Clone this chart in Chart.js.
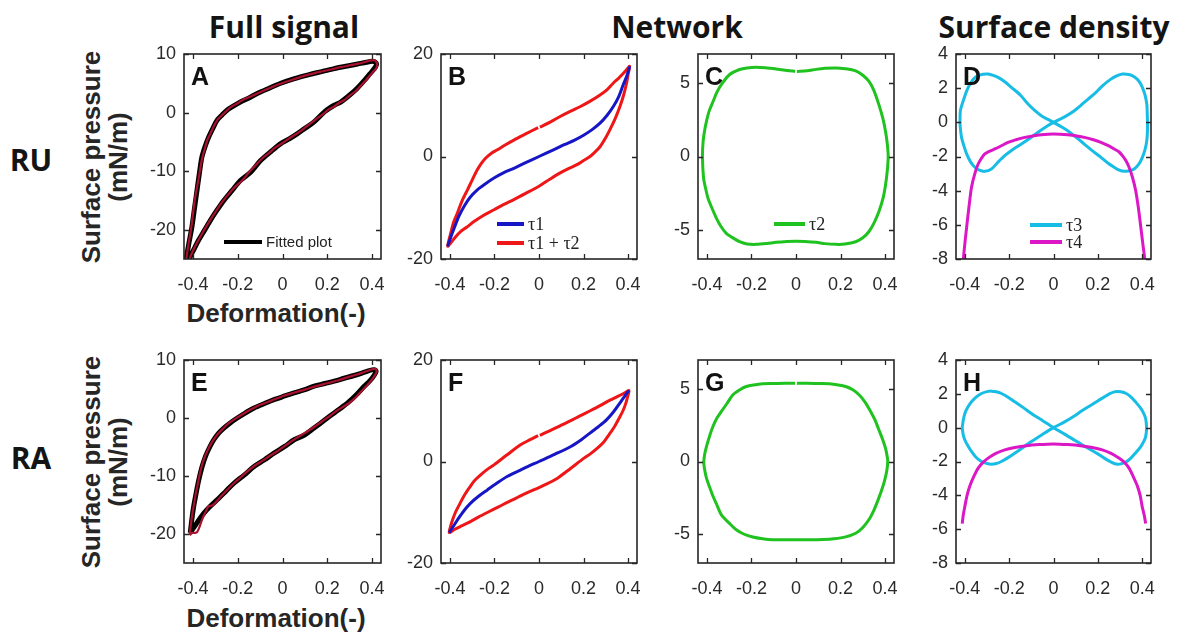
<!DOCTYPE html>
<html>
<head>
<meta charset="utf-8">
<script src="https://cdn.jsdelivr.net/npm/chart.js@4.4.1/dist/chart.umd.min.js"></script>
<style>
  html, body { margin: 0; padding: 0; background: #fff; }
  body { width: 1184px; height: 634px; position: relative; overflow: hidden; }
  .txt { position: absolute; white-space: nowrap; color: #141414; }
  .head { font: 700 30px "Open Sans", "Liberation Sans", sans-serif; line-height: 30px; transform: translateX(-50%); }
  .axis { font: 700 26px "Liberation Sans", Arial, sans-serif; line-height: 26px; color: #262626; }
  .xt { transform: translateX(-50%); }
  .yt { transform: translate(-50%, -50%) rotate(-90deg); }
</style>
</head>
<body>

<div class="txt head" style="left:284px; top:12px;">Full signal</div>
<div class="txt head" style="left:677px; top:12px;">Network</div>
<div class="txt head" style="left:1054px; top:12px;">Surface density</div>
<div class="txt head" style="left:31px; top:145px;">RU</div>
<div class="txt head" style="left:31px; top:443px;">RA</div>

<div class="txt axis yt" style="left:91px; top:157px;">Surface pressure</div>
<div class="txt axis yt" style="left:118px; top:157px;">(mN/m)</div>
<div class="txt axis yt" style="left:91px; top:462px;">Surface pressure</div>
<div class="txt axis yt" style="left:118px; top:462px;">(mN/m)</div>
<div class="txt axis xt" style="left:276px; top:300px;">Deformation(-)</div>
<div class="txt axis xt" style="left:276px; top:605px;">Deformation(-)</div>

<script>
// ---------- tick values ----------
const xTicks = [-0.4, -0.2, 0, 0.2, 0.4];
const yTicksFull = [-20, -10, 0, 10];
const yTicksNet = [-20, 0, 20];
const yTicksTau2 = [-5, 0, 5];
const yTicksDens = [-8, -6, -4, -2, 0, 2, 4];

// ---------- RU: full signal (measured data and fitted curve) ----------
const ruData = [
  [-0.432,-26],[-0.428,-24.6],[-0.42,-22.5],[-0.41,-20.3],[-0.402,-18.0],[-0.396,-16.0],[-0.388,-14.0],
  [-0.38,-12.4],[-0.373,-10.9],[-0.366,-9.2],[-0.357,-7.5],[-0.346,-6.0],[-0.335,-4.6],[-0.322,-3.6],
  [-0.308,-2.4],[-0.29,-1.2],[-0.272,-0.5],[-0.25,0.3],[-0.228,1.0],[-0.2,1.6],[-0.176,2.2],[-0.15,2.6],
  [-0.13,2.95],[-0.11,3.3],[-0.08,3.8],[-0.05,4.3],[-0.02,4.8],[0.02,5.3],[0.06,5.8],[0.1,6.3],[0.14,6.7],
  [0.18,7.05],[0.22,7.4],[0.26,7.75],[0.3,8.05],[0.34,8.35],[0.37,8.65],[0.395,8.9],[0.41,8.95],[0.42,8.6],
  [0.423,8.1],[0.418,7.5],[0.405,7.0],[0.39,6.3],[0.37,5.4],[0.35,4.6],[0.325,3.6],[0.3,2.9],[0.275,2.1],
  [0.25,1.6],[0.23,1.0],[0.205,0.5],[0.18,-0.3],[0.15,-1.1],[0.12,-2.0],[0.09,-2.9],[0.06,-3.7],[0.03,-4.4],
  [0.0,-5.2],[-0.03,-5.9],[-0.06,-6.9],[-0.09,-7.8],[-0.12,-9.0],[-0.15,-10.2],[-0.18,-11.6],[-0.21,-12.6],
  [-0.24,-13.9],[-0.27,-15.3],[-0.3,-17.0],[-0.33,-18.8],[-0.355,-20.4],[-0.38,-22.1],[-0.4,-23.6],
  [-0.415,-25],[-0.425,-26.5]
];
const ruFit = [
  [-0.437,-28],[-0.43,-25],[-0.418,-22.3],[-0.405,-19.6],[-0.393,-16.3],[-0.382,-13.3],[-0.371,-10.3],
  [-0.36,-7.6],[-0.345,-5.7],[-0.33,-4.2],[-0.31,-2.6],[-0.292,-1.3],[-0.27,-0.4],[-0.248,0.4],[-0.22,1.1],
  [-0.188,1.8],[-0.15,2.5],[-0.113,3.25],[-0.06,4.15],[-0.008,5.0],[0.05,5.75],[0.111,6.4],[0.17,6.95],
  [0.231,7.5],[0.29,7.95],[0.336,8.3],[0.375,8.6],[0.4,8.75],[0.415,8.6],[0.42,8.2],
  [0.412,7.6],[0.39,6.6],[0.366,5.5],[0.33,4.0],[0.291,2.7],[0.26,1.8],[0.231,1.25],[0.19,0.2],[0.141,-1.6],
  [0.1,-2.7],[0.067,-3.6],[0.03,-4.5],[-0.008,-5.3],[-0.05,-6.6],[-0.098,-8.2],[-0.14,-10.1],[-0.188,-11.6],
  [-0.225,-13.3],[-0.262,-15.0],[-0.295,-16.8],[-0.322,-18.4],[-0.35,-20.2],[-0.375,-21.8],[-0.395,-23.3],
  [-0.412,-24.6],[-0.425,-26],[-0.43,-27]
];

// ---------- RU: network contributions ----------
const ruTau1 = [
  [-0.41,-17.5],[-0.395,-15.6],[-0.381,-14],[-0.36,-11.7],[-0.336,-9.7],[-0.31,-8.0],[-0.277,-6.5],
  [-0.24,-5.3],[-0.202,-4.2],[-0.16,-3.2],[-0.113,-2.3],[-0.06,-1.2],[0,0],[0.06,1.2],[0.113,2.3],[0.16,3.2],
  [0.202,4.2],[0.24,5.3],[0.274,6.5],[0.305,8.0],[0.333,9.7],[0.358,11.7],[0.378,14],[0.395,15.8],[0.407,17.6]
];
const ruTau12 = [
  [0.004,5.75],[0.05,6.7],[0.095,7.8],[0.14,8.8],[0.184,9.7],[0.23,10.8],[0.274,12],[0.305,13],[0.333,14.3],
  [0.358,15.3],[0.378,16.2],[0.395,17],[0.407,17.6],
  [0.4,16],[0.393,14.3],[0.38,12],[0.363,9.7],[0.342,7.4],[0.318,5.2],[0.296,3.4],[0.274,1.9],[0.25,0.8],
  [0.229,0],[0.2,-0.8],[0.17,-1.6],[0.13,-2.4],[0.095,-3.2],[0.05,-4.4],[0,-5.8],[-0.06,-7.2],[-0.113,-8.4],
  [-0.16,-9.4],[-0.202,-10.4],[-0.25,-11.5],[-0.292,-12.7],[-0.325,-13.8],[-0.351,-14.6],[-0.375,-15.7],
  [-0.395,-16.8],[-0.41,-17.5],
  [-0.396,-14.9],[-0.383,-12.8],[-0.366,-11],[-0.345,-8.6],[-0.321,-6.5],[-0.298,-4.4],[-0.277,-2.6],
  [-0.258,-1.3],[-0.239,-0.3],[-0.215,0.6],[-0.187,1.3],[-0.15,2.3],[-0.113,3.2],[-0.06,4.4],[-0.004,5.65]
];
const ruTau2 = [
  [0.004,5.8],[0.05,5.85],[0.09,5.95],[0.13,6.02],[0.179,6.05],[0.22,6.0],[0.268,5.85],[0.3,5.55],[0.327,5.14],
  [0.35,4.5],[0.372,3.54],[0.39,2.6],[0.402,1.71],[0.41,0.85],[0.414,0],[0.41,-0.95],[0.402,-1.94],
  [0.39,-2.9],[0.372,-3.77],[0.35,-4.55],[0.327,-5.14],[0.3,-5.55],[0.268,-5.82],[0.22,-5.98],[0.179,-6.0],
  [0.13,-5.95],[0.09,-5.86],[0.04,-5.8],[0,-5.78],[-0.04,-5.8],[-0.09,-5.86],[-0.13,-5.94],[-0.179,-6.0],
  [-0.22,-5.97],[-0.253,-5.82],[-0.29,-5.5],[-0.313,-5.25],[-0.336,-4.8],[-0.357,-4.22],[-0.378,-3.5],
  [-0.395,-2.85],[-0.407,-2.1],[-0.415,-1.48],[-0.42,0],[-0.417,1.03],[-0.41,1.8],[-0.402,2.4],[-0.39,3.1],
  [-0.372,3.77],[-0.355,4.4],[-0.335,4.91],[-0.298,5.6],[-0.253,5.94],[-0.22,6.05],[-0.179,6.1],[-0.13,6.05],
  [-0.09,5.98],[-0.04,5.88],[-0.004,5.82]
];

// ---------- RU: surface density contributions ----------
const ruTau3 = [
  [-0.422,0],[-0.42,0.7],[-0.407,1.27],[-0.393,1.8],[-0.377,2.24],[-0.36,2.55],[-0.34,2.73],[-0.318,2.82],
  [-0.295,2.83],[-0.272,2.75],[-0.25,2.63],[-0.22,2.38],[-0.19,2.05],[-0.15,1.6],[-0.115,1.07],[-0.085,0.7],
  [-0.055,0.39],[-0.025,0.17],[0,0],[0.03,-0.22],[0.064,-0.49],[0.1,-0.85],[0.139,-1.27],[0.175,-1.66],
  [0.214,-2.05],[0.245,-2.38],[0.274,-2.63],[0.297,-2.8],[0.319,-2.87],[0.342,-2.83],[0.364,-2.73],
  [0.385,-2.45],[0.401,-2.05],[0.413,-1.6],[0.421,-1.07],[0.424,-0.5],[0.424,0],[0.423,0.55],[0.421,1.07],
  [0.413,1.6],[0.401,2.05],[0.385,2.42],[0.364,2.67],[0.34,2.8],[0.311,2.83],[0.285,2.72],[0.259,2.53],
  [0.222,2.15],[0.184,1.66],[0.14,1.18],[0.094,0.68],[0.05,0.32],[0,0],[-0.035,-0.27],[-0.07,-0.58],
  [-0.105,-0.92],[-0.145,-1.27],[-0.185,-1.6],[-0.22,-1.95],[-0.252,-2.35],[-0.28,-2.73],[-0.31,-2.87],
  [-0.335,-2.8],[-0.355,-2.63],[-0.375,-2.3],[-0.392,-1.85],[-0.405,-1.35],[-0.415,-0.88],[-0.42,-0.4],[-0.422,0]
];
const ruTau4 = [
  [-0.412,-9],[-0.407,-8.05],[-0.4,-7.1],[-0.392,-6.14],[-0.381,-4.9],[-0.37,-3.8],[-0.355,-3.0],[-0.34,-2.44],
  [-0.325,-2.1],[-0.31,-1.85],[-0.29,-1.7],[-0.265,-1.56],[-0.235,-1.37],[-0.205,-1.17],[-0.17,-1.02],
  [-0.13,-0.88],[-0.09,-0.79],[-0.055,-0.72],[0,-0.68],[0.064,-0.72],[0.1,-0.79],[0.139,-0.88],[0.18,-1.02],
  [0.214,-1.17],[0.245,-1.35],[0.274,-1.56],[0.295,-1.72],[0.311,-1.95],[0.327,-2.25],[0.341,-2.63],
  [0.356,-3.2],[0.371,-4.0],[0.383,-5.0],[0.394,-6.14],[0.404,-7.2],[0.412,-8.05],[0.416,-9]
];

// ---------- RA: full signal (measured data and fitted curve) ----------
const raData = [
  [-0.415,-20.2],[-0.41,-18.6],[-0.403,-16.6],[-0.395,-14.8],[-0.387,-13.0],[-0.378,-11.3],[-0.368,-9.4],
  [-0.357,-7.8],[-0.345,-6.5],[-0.33,-5.2],[-0.312,-4.0],[-0.29,-2.8],[-0.265,-1.8],[-0.24,-0.9],[-0.21,-0.1],
  [-0.18,0.6],[-0.15,1.3],[-0.12,1.9],[-0.09,2.4],[-0.05,3.0],[0,3.75],[0.05,4.35],[0.1,4.9],[0.15,5.5],
  [0.2,6.0],[0.25,6.5],[0.29,7.0],[0.33,7.45],[0.36,7.85],[0.385,8.2],[0.405,8.45],[0.418,8.4],[0.42,7.9],
  [0.41,7.2],[0.395,6.4],[0.37,5.3],[0.345,4.3],[0.32,3.3],[0.295,2.5],[0.27,1.9],[0.24,1.2],[0.21,0.3],
  [0.18,-0.5],[0.15,-1.3],[0.12,-2.1],[0.09,-2.8],[0.06,-3.5],[0.03,-4.3],[0,-5.1],[-0.03,-5.9],[-0.06,-6.6],
  [-0.09,-7.4],[-0.12,-8.1],[-0.15,-9.0],[-0.18,-10.0],[-0.21,-11.0],[-0.24,-12.1],[-0.27,-13.3],[-0.3,-14.6],
  [-0.315,-15.1],[-0.33,-15.2],[-0.345,-16.3],[-0.36,-17.6],[-0.372,-18.9],[-0.382,-19.7],[-0.392,-19.8],
  [-0.403,-19.8],[-0.415,-20.2]
];
const raFit = [
  [-0.412,-19.8],[-0.405,-17.5],[-0.397,-15.3],[-0.386,-13],[-0.374,-10.7],[-0.36,-8.5],[-0.344,-6.6],
  [-0.325,-5.0],[-0.307,-3.75],[-0.285,-2.6],[-0.262,-1.73],[-0.232,-0.8],[-0.202,0],[-0.165,0.9],
  [-0.127,1.73],[-0.08,2.5],[-0.038,3.17],[0.01,3.8],[0.052,4.33],[0.1,4.9],[0.141,5.48],[0.19,5.95],
  [0.231,6.35],[0.275,6.85],[0.32,7.33],[0.355,7.75],[0.38,8.08],[0.4,8.3],[0.412,8.3],[0.418,8.0],
  [0.41,7.4],[0.39,6.4],[0.366,5.5],[0.33,4.0],[0.291,2.6],[0.26,1.7],[0.231,0.87],[0.19,-0.3],[0.141,-1.73],
  [0.1,-2.9],[0.052,-3.75],[0.01,-4.9],[-0.038,-6.06],[-0.08,-7.2],[-0.127,-8.37],[-0.17,-9.8],[-0.217,-11.25],
  [-0.255,-12.7],[-0.292,-14.1],[-0.325,-15.3],[-0.351,-16.4],[-0.372,-17.5],[-0.389,-18.5],[-0.402,-19.2],
  [-0.412,-19.8]
];

// ---------- RA: network contributions ----------
const raTau1 = [
  [-0.403,-14.0],[-0.385,-12.8],[-0.366,-11.5],[-0.337,-9.7],[-0.307,-8.2],[-0.27,-6.8],[-0.232,-5.6],
  [-0.19,-4.3],[-0.143,-2.96],[-0.07,-1.4],[0,0],[0.07,1.4],[0.143,2.96],[0.19,4.3],[0.229,5.6],[0.268,6.9],
  [0.303,8.2],[0.335,9.8],[0.363,11.5],[0.385,12.9],[0.404,14.0]
];
const raTau12 = [
  [0.004,5.15],[0.05,6.1],[0.095,7.04],[0.14,8.0],[0.184,9.0],[0.23,10.0],[0.274,11],[0.31,11.9],[0.348,12.7],
  [0.38,13.4],[0.404,14.0],
  [0.398,12.8],[0.39,11.5],[0.377,10.0],[0.36,8.55],[0.338,6.8],[0.314,5.26],[0.29,3.8],[0.262,2.63],
  [0.232,1.55],[0.202,0.66],[0.143,-1.32],[0.083,-3.29],[0.04,-4.3],[0,-5.13],[-0.05,-6.1],[-0.095,-7.04],
  [-0.14,-8.0],[-0.184,-9.0],[-0.23,-10.0],[-0.274,-11],[-0.31,-11.9],[-0.348,-12.7],[-0.38,-13.4],[-0.403,-14.0],
  [-0.397,-12.8],[-0.388,-11.5],[-0.375,-10.0],[-0.358,-8.55],[-0.337,-6.8],[-0.314,-5.26],[-0.29,-3.8],
  [-0.262,-2.63],[-0.232,-1.55],[-0.202,-0.66],[-0.143,1.32],[-0.083,3.29],[-0.04,4.3],[-0.004,5.1]
];
const raTau2 = [
  [0.004,5.4],[0.05,5.4],[0.1,5.38],[0.149,5.36],[0.19,5.28],[0.223,5.17],[0.255,4.95],[0.283,4.6],[0.31,4.1],
  [0.335,3.45],[0.355,2.85],[0.372,2.19],[0.387,1.6],[0.402,0.9],[0.41,0.3],[0.412,0],[0.408,-0.6],[0.398,-1.3],
  [0.384,-2.0],[0.366,-2.75],[0.35,-3.35],[0.33,-3.95],[0.3,-4.55],[0.268,-4.95],[0.223,-5.2],[0.17,-5.33],
  [0.12,-5.38],[0.06,-5.4],[0,-5.4],[-0.06,-5.4],[-0.104,-5.4],[-0.15,-5.33],[-0.194,-5.21],[-0.235,-5.0],
  [-0.268,-4.71],[-0.3,-4.25],[-0.335,-3.68],[-0.355,-3.0],[-0.372,-2.41],[-0.387,-1.8],[-0.402,-1.15],
  [-0.412,-0.4],[-0.414,0],[-0.41,0.5],[-0.402,1.03],[-0.385,1.9],[-0.372,2.45],[-0.355,3.0],[-0.335,3.45],
  [-0.31,4.0],[-0.283,4.6],[-0.252,4.95],[-0.223,5.17],[-0.19,5.28],[-0.149,5.36],[-0.1,5.38],[-0.05,5.4],
  [-0.004,5.4]
];

// ---------- RA: surface density contributions ----------
const raTau3 = [
  [-0.412,0],[-0.407,0.45],[-0.4,0.84],[-0.387,1.2],[-0.37,1.53],[-0.348,1.82],[-0.325,2.02],[-0.3,2.13],
  [-0.28,2.16],[-0.258,2.12],[-0.235,2.02],[-0.205,1.8],[-0.175,1.53],[-0.138,1.2],[-0.1,0.84],[-0.05,0.42],
  [0,0],[0.05,-0.38],[0.094,-0.73],[0.13,-1.02],[0.169,-1.31],[0.2,-1.55],[0.229,-1.8],[0.252,-1.98],
  [0.274,-2.12],[0.29,-2.16],[0.304,-2.14],[0.328,-2.02],[0.349,-1.8],[0.373,-1.45],[0.394,-1.12],[0.408,-0.8],
  [0.416,-0.53],[0.42,0],[0.416,0.53],[0.408,0.82],[0.394,1.14],[0.373,1.48],[0.349,1.82],[0.328,2.02],
  [0.304,2.12],[0.285,2.14],[0.274,2.12],[0.252,2.0],[0.229,1.82],[0.2,1.58],[0.169,1.33],[0.13,1.02],
  [0.094,0.69],[0.05,0.34],[0,0],[-0.05,-0.4],[-0.1,-0.82],[-0.138,-1.17],[-0.175,-1.51],[-0.205,-1.77],
  [-0.235,-2.0],[-0.258,-2.12],[-0.28,-2.16],[-0.3,-2.12],[-0.325,-2.0],[-0.35,-1.75],[-0.37,-1.41],
  [-0.387,-1.05],[-0.4,-0.73],[-0.408,-0.38],[-0.412,0]
];
const raTau4 = [
  [-0.412,-5.67],[-0.407,-5.15],[-0.4,-4.65],[-0.39,-4.0],[-0.378,-3.47],[-0.36,-2.9],[-0.34,-2.39],
  [-0.318,-2.05],[-0.295,-1.8],[-0.26,-1.52],[-0.22,-1.31],[-0.175,-1.17],[-0.13,-1.08],[-0.065,-1.0],
  [0,-0.96],[0.065,-1.0],[0.13,-1.08],[0.175,-1.17],[0.22,-1.31],[0.26,-1.52],[0.295,-1.8],[0.32,-2.05],
  [0.341,-2.39],[0.36,-2.9],[0.379,-3.47],[0.391,-4.0],[0.4,-4.65],[0.409,-5.15],[0.416,-5.67]
];

// ---------- styling ----------
const C = {
  black: '#000000', data: '#a8122e', blue: '#1616c6', red: '#ee1616',
  green: '#1fc21f', cyan: '#18bde6', magenta: '#db17c6', frame: '#262626', text: '#2a2a2a'
};
const PAD_L = 62, PAD_T = 14, PAD_R = 16, PAD_B = 46, TICK = 5;

const panels = [
  { letter: 'A', rect: [184, 54, 381, 259], y: [-25, 10], yTicks: yTicksFull,
    series: [ { d: ruFit, c: C.black, w: 5 }, { d: ruData, c: C.data, w: 2.2 } ],
    legend: { x0: 40, x1: 78, rows: [ { y: 188, c: C.black, t: 'Fitted plot' } ], font: '15px "Liberation Sans", Arial' } },
  { letter: 'B', rect: [441, 54, 637, 259], y: [-20, 20], yTicks: yTicksNet,
    series: [ { d: ruTau12, c: C.red, w: 3 }, { d: ruTau1, c: C.blue, w: 3 } ],
    legend: { x0: 56, x1: 83, rows: [ { y: 170, c: C.blue, t: 'τ1' }, { y: 189, c: C.red, t: 'τ1 + τ2' } ], font: '18px "Liberation Serif", serif' } },
  { letter: 'C', rect: [698, 54, 894, 259], y: [-7, 7], yTicks: yTicksTau2,
    series: [ { d: ruTau2, c: C.green, w: 3 } ],
    legend: { x0: 76, x1: 107, rows: [ { y: 170, c: C.green, t: 'τ2' } ], font: '18px "Liberation Serif", serif' } },
  { letter: 'D', rect: [956, 54, 1151, 259], y: [-8, 4], yTicks: yTicksDens,
    series: [ { d: ruTau3, c: C.cyan, w: 3 }, { d: ruTau4, c: C.magenta, w: 3 } ],
    legend: { x0: 74, x1: 106, rows: [ { y: 171, c: C.cyan, t: 'τ3' }, { y: 188, c: C.magenta, t: 'τ4' } ], font: '18px "Liberation Serif", serif' } },
  { letter: 'E', rect: [184, 360, 381, 563], y: [-25, 10], yTicks: yTicksFull,
    series: [ { d: raFit, c: C.black, w: 5 }, { d: raData, c: C.data, w: 2.2 } ] },
  { letter: 'F', rect: [441, 360, 637, 563], y: [-20, 20], yTicks: yTicksNet,
    series: [ { d: raTau12, c: C.red, w: 3 }, { d: raTau1, c: C.blue, w: 3 } ] },
  { letter: 'G', rect: [698, 360, 894, 563], y: [-7, 7], yTicks: yTicksTau2,
    series: [ { d: raTau2, c: C.green, w: 3 } ] },
  { letter: 'H', rect: [956, 360, 1151, 563], y: [-8, 4], yTicks: yTicksDens,
    series: [ { d: raTau3, c: C.cyan, w: 3 }, { d: raTau4, c: C.magenta, w: 3 } ] }
];

// Box, inward tick marks, panel letter and in-axes legend
const framePlugin = {
  id: 'frame',
  afterDraw(chart, args, o) {
    const { ctx, chartArea: a, scales: { x, y } } = chart;
    ctx.save();
    ctx.strokeStyle = C.frame;
    ctx.lineWidth = 1.6;
    ctx.strokeRect(a.left, a.top, a.right - a.left, a.bottom - a.top);
    ctx.beginPath();
    x.ticks.forEach(t => {
      const px = Math.round(x.getPixelForValue(t.value)) + 0.5;
      ctx.moveTo(px, a.bottom); ctx.lineTo(px, a.bottom - TICK);
      ctx.moveTo(px, a.top); ctx.lineTo(px, a.top + TICK);
    });
    y.ticks.forEach(t => {
      const py = Math.round(y.getPixelForValue(t.value)) + 0.5;
      ctx.moveTo(a.left, py); ctx.lineTo(a.left + TICK, py);
      ctx.moveTo(a.right, py); ctx.lineTo(a.right - TICK, py);
    });
    ctx.lineWidth = 1.3;
    ctx.stroke();

    ctx.fillStyle = '#111';
    ctx.font = 'bold 25px "Liberation Sans", Arial, sans-serif';
    ctx.textBaseline = 'alphabetic';
    ctx.textAlign = 'left';
    ctx.fillText(o.letter, a.left + 7, a.top + 31);

    if (o.legend) {
      const L = o.legend;
      ctx.font = L.font;
      ctx.textBaseline = 'middle';
      L.rows.forEach(r => {
        ctx.strokeStyle = r.c;
        ctx.lineWidth = 4;
        ctx.beginPath();
        ctx.moveTo(a.left + L.x0, a.top + r.y);
        ctx.lineTo(a.left + L.x1, a.top + r.y);
        ctx.stroke();
        ctx.fillStyle = '#222';
        ctx.fillText(r.t, a.left + L.x1 + 4, a.top + r.y + 1);
      });
    }
    ctx.restore();
  }
};

const tickFont = { family: '"Liberation Sans", Arial, sans-serif', size: 18 };

panels.forEach(p => {
  const [L, T, R, B] = p.rect;
  const W = (R - L) + PAD_L + PAD_R, H = (B - T) + PAD_T + PAD_B;
  const cv = document.createElement('canvas');
  cv.width = W; cv.height = H;
  cv.style.cssText = `position:absolute;left:${L - PAD_L}px;top:${T - PAD_T}px;width:${W}px;height:${H}px;`;
  document.body.appendChild(cv);

  const n = p.series.length;
  new Chart(cv, {
    type: 'scatter',
    data: {
      datasets: p.series.map((s, i) => ({
        data: s.d.map(([x, y]) => ({ x, y })),
        showLine: true,
        borderColor: s.c,
        backgroundColor: s.c,
        borderWidth: s.w,
        pointRadius: 0,
        tension: 0.3,
        borderCapStyle: 'butt',
        borderJoinStyle: 'round',
        order: n - i
      }))
    },
    options: {
      responsive: false,
      animation: false,
      devicePixelRatio: 1,
      events: [],
      layout: { padding: { left: 0, top: PAD_T, right: PAD_R, bottom: 0 } },
      plugins: {
        legend: { display: false },
        tooltip: { enabled: false },
        frame: { letter: p.letter, legend: p.legend }
      },
      scales: {
        x: {
          type: 'linear', min: -0.44, max: 0.44,
          grid: { display: false, drawTicks: false },
          border: { display: false },
          afterBuildTicks: s => { s.ticks = xTicks.map(v => ({ value: v })); },
          afterFit: s => { s.height = PAD_B; s.paddingLeft = 0; s.paddingRight = 0; },
          ticks: { padding: 15, autoSkip: false, maxRotation: 0, color: C.text, font: tickFont, callback: v => String(v) }
        },
        y: {
          type: 'linear', min: p.y[0], max: p.y[1],
          grid: { display: false, drawTicks: false },
          border: { display: false },
          afterBuildTicks: s => { s.ticks = p.yTicks.map(v => ({ value: v })); },
          afterFit: s => { s.width = PAD_L; s.paddingTop = 0; s.paddingBottom = 0; },
          ticks: { padding: 8, autoSkip: false, color: C.text, font: tickFont, callback: v => String(v) }
        }
      }
    },
    plugins: [framePlugin]
  });
});
</script>
</body>
</html>
